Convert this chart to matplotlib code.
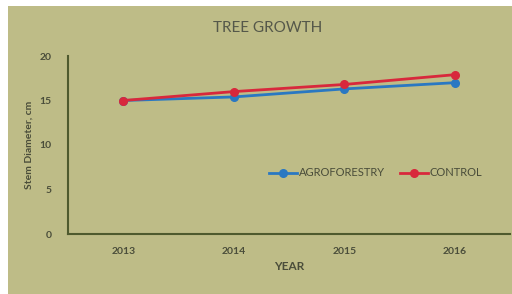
import matplotlib
matplotlib.use("Agg")
import matplotlib.pyplot as plt
from matplotlib.patches import Rectangle

years = ["2013", "2014", "2015", "2016"]
agroforestry = [15.0, 15.4, 16.3, 17.0]
control = [15.0, 16.0, 16.8, 17.9]
yticks = [0, 5, 10, 15, 20]

bg = "#bebc87"
txt = "#4a4d3a"
spine = "#4f5a2e"

plt.rcParams['font.family'] = ['Lato', 'DejaVu Sans']

fig = plt.figure(figsize=(5.12, 2.94), dpi=100, facecolor="white")
fig.patches.append(Rectangle((8/512, 0), 1, 1 - 6/294, transform=fig.transFigure,
                             facecolor=bg, edgecolor="none", zorder=-10))
ax = fig.add_axes([68/512, 1 - 234/294, 442/512, (234 - 56)/294])
ax.set_facecolor(bg)
ax.patch.set_alpha(0)

x = list(range(len(years)))
ax.plot(x, agroforestry, color="#2a78c2", lw=2, marker="o", ms=5.5, label="AGROFORESTRY", zorder=3)
ax.plot(x, control, color="#d8283c", lw=2, marker="o", ms=5.5, label="CONTROL", zorder=3)

ax.set_xlim(-0.5, 3.5)
ax.set_ylim(0, 20)
ax.set_xticks(x)
ax.set_xticklabels(years)
ax.set_yticks(yticks)
for s in ["top", "right"]:
    ax.spines[s].set_visible(False)
for s in ["left", "bottom"]:
    ax.spines[s].set_color(spine)
    ax.spines[s].set_linewidth(1.5)
ax.tick_params(length=0, labelsize=7.5, labelcolor=txt)
ax.tick_params(axis="x", pad=9)
ax.tick_params(axis="y", pad=12)
for lab in ax.get_xticklabels() + ax.get_yticklabels():
    lab.set_fontweight("bold")

ax.set_xlabel("YEAR", fontsize=8.5, fontweight="bold", color=txt, labelpad=4)
ax.set_ylabel("Stem Diameter, cm", fontsize=7.5, fontweight="bold", color=txt, labelpad=4)
fig.text(268/512, 1 - 28/294, "TREE GROWTH", ha="center", va="center",
         fontsize=11, color="#55584a")

leg = ax.legend(loc="center", bbox_to_anchor=((376 - 68)/442, (234 - 173)/178), ncol=2,
                frameon=False, fontsize=8, handlelength=2.5, columnspacing=1.3,
                handletextpad=0.2, labelcolor=txt)

fig.savefig("out.png", dpi=100, facecolor=fig.get_facecolor())
